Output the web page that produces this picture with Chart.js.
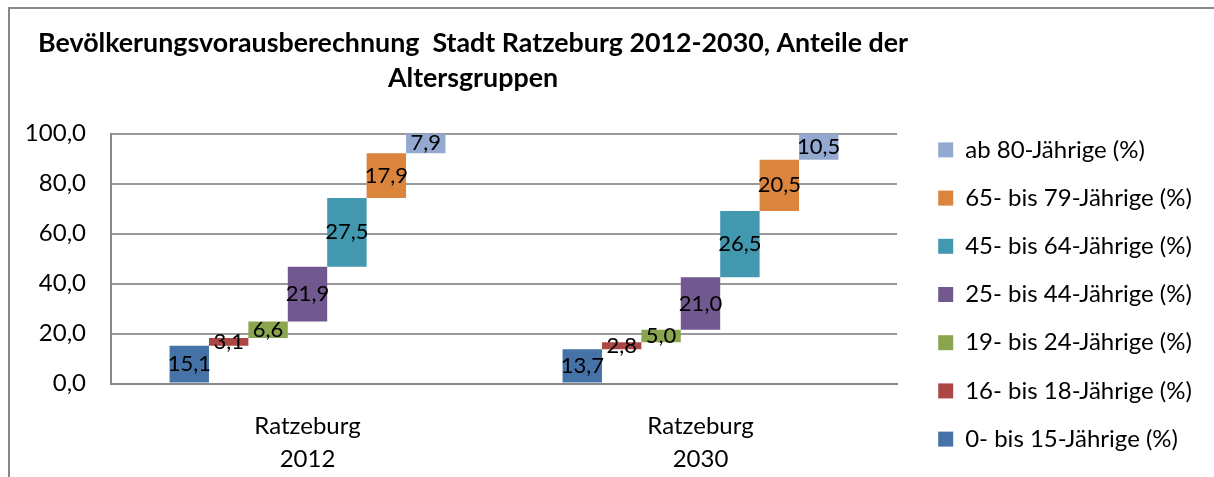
<!DOCTYPE html>
<html lang="de">
<head>
<meta charset="utf-8">
<title>Bevölkerungsvorausberechnung Ratzeburg</title>
<script src="https://cdn.jsdelivr.net/npm/chart.js@4.4.1/dist/chart.umd.min.js"></script>
<style>
  html, body { margin: 0; padding: 0; background: #fff; overflow: hidden; }
  #wrap { position: relative; width: 1214px; height: 477px; }
  #frame {
    position: absolute; left: 8px; top: 7px;
    width: 1300px; height: 600px;
    border: 2px solid #878787;
  }
  #chart { position: absolute; left: 0; top: 0; }
</style>
</head>
<body>
<div id="wrap">
  <div id="frame"></div>
  <canvas id="chart" width="1214" height="477"></canvas>
</div>
<script>
// Kategorien (zweizeilige Achsenbeschriftung)
const categories = [['Ratzeburg', '2012'], ['Ratzeburg', '2030']];

// Altersgruppen in Stapelreihenfolge (unten -> oben)
const ageGroups = [
    '0- bis 15-Jährige (%)',
    '16- bis 18-Jährige (%)',
    '19- bis 24-Jährige (%)',
    '25- bis 44-Jährige (%)',
    '45- bis 64-Jährige (%)',
    '65- bis 79-Jährige (%)',
    'ab 80-Jährige (%)'
];

// Anteile in %
const shares2012 = [15.1, 3.1, 6.6, 21.9, 27.5, 17.9, 7.9];
const shares2030 = [13.7, 2.8, 5.0, 21.0, 26.5, 20.5, 10.5];

const yTickLabels = ['0,0', '20,0', '40,0', '60,0', '80,0', '100,0'];

const groupColors = ['#4572A7', '#AA4643', '#89A54E', '#71588F', '#4198AF', '#DB843D', '#93A9CF'];

const titleLines = ['Bevölkerungsvorausberechnung  Stadt Ratzeburg 2012-2030, Anteile der', 'Altersgruppen'];

// floating bars: each group starts where the previous one ends
const toRanges = (shares) => {
    let sum = 0;
    return shares.map(v => {
        const range = [sum, sum + v];
        sum += v;
        return range;
    });
};
const ranges2012 = toRanges(shares2012);
const ranges2030 = toRanges(shares2030);

const datasets = ageGroups.map((label, i) => ({
    label: label,
    data: [ranges2012[i], ranges2030[i]],
    shares: [shares2012[i], shares2030[i]],
    backgroundColor: groupColors[i],
    borderWidth: 0
}));

const formatShare = (v) => v.toFixed(1).replace('.', ',');

// value labels in the middle of each bar
const barValueLabels = {
    id: 'barValueLabels',
    afterDatasetsDraw(chart) {
        const ctx = chart.ctx;
        ctx.save();
        ctx.font = '22px Lato';
        ctx.fillStyle = '#000';
        ctx.textAlign = 'center';
        ctx.textBaseline = 'middle';
        chart.data.datasets.forEach((ds, i) => {
            chart.getDatasetMeta(i).data.forEach((bar, j) => {
                ctx.fillText(formatShare(ds.shares[j]), bar.x, (bar.y + bar.base) / 2);
            });
        });
        ctx.restore();
    }
};

// put the legend where Excel had it (legend is clipped to its box, so move the whole box)
const legendSpot = {
    id: 'legendSpot',
    afterLayout(chart) {
        const legend = chart.legend;
        legend.left = 914;
        legend.right = 1214;
        legend.width = legend.right - legend.left;
        legend.top = 112;
        legend.height = legend.bottom - legend.top;
    }
};

Chart.defaults.font.family = "Lato, 'Open Sans', sans-serif";
Chart.defaults.color = '#000';

new Chart(document.getElementById('chart'), {
    type: 'bar',
    data: {
        labels: categories,
        datasets: datasets
    },
    options: {
        responsive: false,
        animation: false,
        devicePixelRatio: 1,
        categoryPercentage: 0.702,
        barPercentage: 1,
        layout: {
            padding: { top: 0, right: 268, bottom: 0, left: 0 }
        },
        scales: {
            x: {
                grid: { display: false },
                border: { display: true, color: '#888888', width: 2 },
                ticks: {
                    font: { size: 24, lineHeight: '33px' },
                    padding: 18,
                    maxRotation: 0
                },
                afterFit: (scale) => { scale.height = 93.5; }
            },
            y: {
                min: 0,
                max: 100,
                grid: { color: '#999999', lineWidth: 2, drawTicks: false },
                border: { display: true, color: '#888888', width: 2 },
                ticks: {
                    stepSize: 20,
                    padding: 25,
                    font: { size: 24 },
                    callback: (value, index) => yTickLabels[index]
                },
                afterFit: (scale) => { scale.width = 111; }
            }
        },
        plugins: {
            title: {
                display: true,
                text: titleLines,
                font: { size: 26.8, weight: 'bold', lineHeight: '35px' },
                padding: { top: 25.5, bottom: 38 },
                color: '#000'
            },
            legend: {
                position: 'right',
                reverse: true,
                maxWidth: 49,
                labels: {
                    boxWidth: 15,
                    boxHeight: 15,
                    padding: 24.2,
                    font: { size: 24 }
                }
            },
            tooltip: { enabled: false }
        }
    },
    plugins: [barValueLabels, legendSpot]
});
</script>
</body>
</html>
